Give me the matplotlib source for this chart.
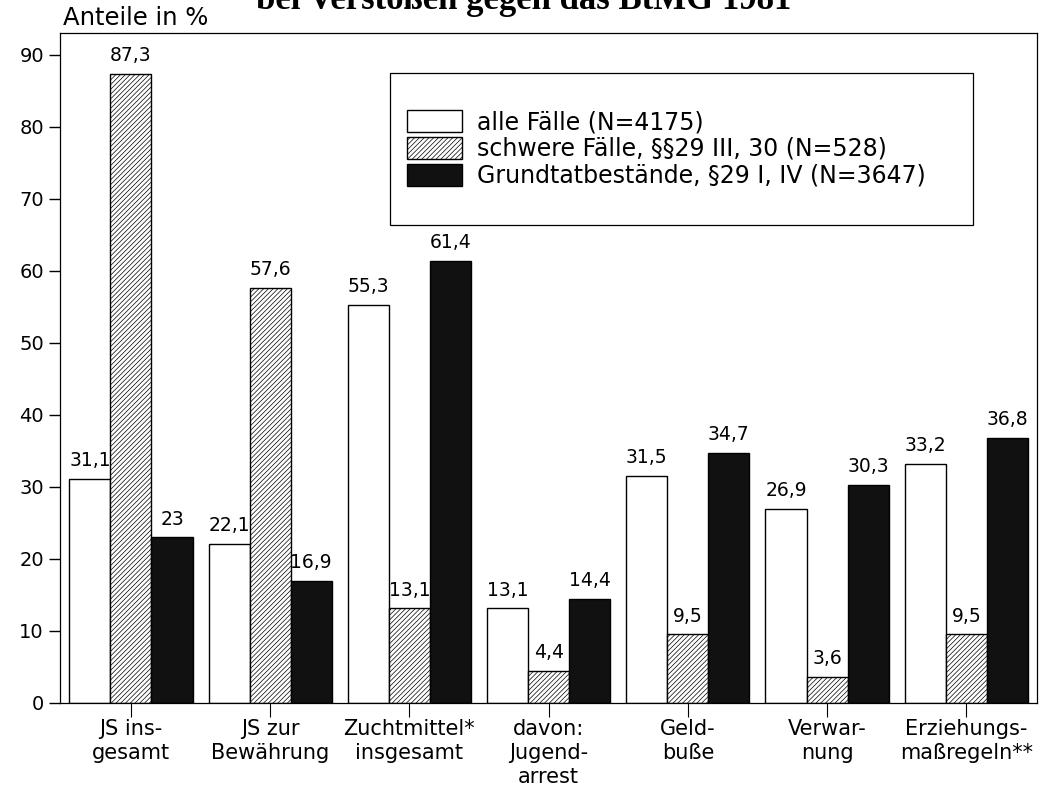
import matplotlib
matplotlib.use("Agg")
import matplotlib.pyplot as plt
from matplotlib.patches import Rectangle
import numpy as np

plt.rcParams["font.family"] = ["DejaVu Sans"]
plt.rcParams["hatch.linewidth"] = 0.5

# Kategorien und Werte (Anteile in %)
categories = ["JS ins-\ngesamt", "JS zur\nBewährung", "Zuchtmittel*\ninsgesamt",
              "davon:\nJugend-\narrest", "Geld-\nbuße", "Verwar-\nnung", "Erziehungs-\nmaßregeln**"]
alle = [31.1, 22.1, 55.3, 13.1, 31.5, 26.9, 33.2]
schwere = [87.3, 57.6, 13.1, 4.4, 9.5, 3.6, 9.5]
grund = [23, 16.9, 61.4, 14.4, 34.7, 30.3, 36.8]
series_labels = ["alle Fälle (N=4175)",
                 "schwere Fälle, §§29 III, 30 (N=528)",
                 "Grundtatbestände, §29 I, IV (N=3647)"]


def fmt(v):
    s = f"{v:.1f}".replace(".", ",")
    return s[:-2] if s.endswith(",0") else s


fig = plt.figure(figsize=(10.52, 7.87), dpi=100)
ax = fig.add_axes([0.057, 0.107, 0.929, 0.851])

x = np.arange(len(categories))
w = 0.295
b1 = ax.bar(x - w, alle, w, color="white", edgecolor="black", linewidth=1, label=series_labels[0])
b2 = ax.bar(x, schwere, w, color="white", edgecolor="black", linewidth=1, hatch="///////", label=series_labels[1])
b3 = ax.bar(x + w, grund, w, color="#111111", edgecolor="black", linewidth=1, label=series_labels[2])

for bars, vals in [(b1, alle), (b2, schwere), (b3, grund)]:
    for r, v in zip(bars, vals):
        ax.text(r.get_x() + r.get_width() / 2, v + 1.2, fmt(v), ha="center", va="bottom", fontsize=13.5)

ax.set_xlim(-0.51, len(categories) - 0.49)
ax.set_ylim(0, 93)
ax.set_yticks(range(0, 100, 10))
ax.set_xticks(x)
ax.set_xticklabels(categories, fontsize=15, linespacing=1.25)
ax.tick_params(axis="y", labelsize=14, length=8, width=1)
ax.tick_params(axis="x", length=10, width=0.8, pad=2)
for s in ax.spines.values():
    s.set_linewidth(0.9)

fig.text(0.060, 0.962, "Anteile in %", fontsize=17.5, ha="left", va="bottom")
fig.text(0.243, 0.9886, "bei Verstößen gegen das BtMG 1981", fontsize=25, fontweight="bold",
         family="Liberation Serif", ha="left", va="baseline")

# Legendenrahmen
fig.patches.append(Rectangle((390 / 1052, 1 - 225 / 787), 583 / 1052, 152 / 787,
                             transform=fig.transFigure, fill=False, edgecolor="black", linewidth=0.9))
leg = ax.legend(loc="upper left", bbox_to_anchor=(407 / 1052, 1 - 110 / 787),
                bbox_transform=fig.transFigure, fontsize=17, frameon=False,
                handlelength=2.35, handleheight=1.05, borderpad=0, borderaxespad=0,
                labelspacing=0.12, handletextpad=0.6)

fig.savefig("out.png", dpi=100)
